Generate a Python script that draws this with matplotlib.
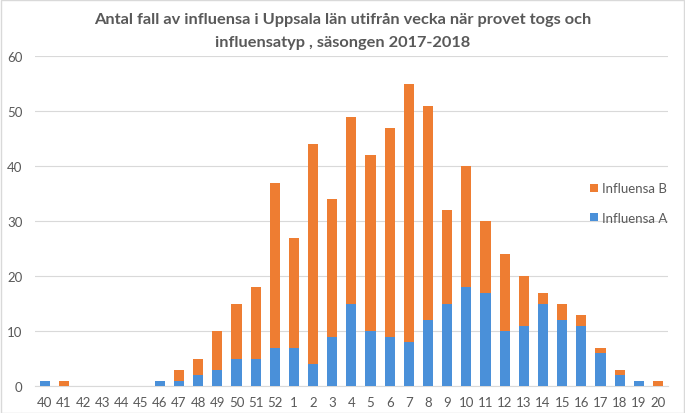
import numpy as np
from matplotlib import pyplot as plt

plt.rcParams['font.family'] = ['Lato', 'DejaVu Sans']

veckor = ['40', '41', '42', '43', '44', '45', '46', '47', '48', '49', '50', '51', '52',
          '1', '2', '3', '4', '5', '6', '7', '8', '9', '10', '11', '12', '13', '14',
          '15', '16', '17', '18', '19', '20']
influensa_a = [1, 0, 0, 0, 0, 0, 1, 1, 2, 3, 5, 5, 7,
               7, 4, 9, 15, 10, 9, 8, 12, 15, 18, 17, 10, 11, 15,
               12, 11, 6, 2, 1, 0]
totalt = [1, 1, 0, 0, 0, 0, 1, 3, 5, 10, 15, 18, 37,
          27, 44, 34, 49, 42, 47, 55, 51, 32, 40, 30, 24, 20, 17,
          15, 13, 7, 3, 1, 1]
influensa_b = [t - a for t, a in zip(totalt, influensa_a)]

gra = '#595959'
fig = plt.figure(figsize=(6.85, 4.14), dpi=100)
ax = fig.add_axes([0.051, 0.065, 0.924, 0.797])

x = np.arange(len(veckor))
ax.bar(x, influensa_a, width=0.53, color='#4A90D9', label='Influensa A', zorder=3)
ax.bar(x, influensa_b, width=0.53, bottom=influensa_a, color='#EE7D32',
       label='Influensa B', zorder=3)

ax.set_ylim(0, 60)
ax.set_xlim(-0.52, 32.52)
ax.set_yticks(range(0, 61, 10))
ax.set_xticks(x)
ax.set_xticklabels(veckor)
ax.tick_params(axis='both', length=0, colors=gra, labelsize=9.5)
ax.tick_params(axis='y', pad=9)
ax.tick_params(axis='x', pad=7)
ax.grid(axis='y', color='#D9D9D9', linewidth=0.8, zorder=0)
for s in ['top', 'right', 'left']:
    ax.spines[s].set_visible(False)
ax.spines['bottom'].set_color('#D9D9D9')

h, l = ax.get_legend_handles_labels()
ax.legend(h[::-1], l[::-1], loc='center right', bbox_to_anchor=(1.018, 0.555),
          frameon=False, fontsize=9.5, labelcolor=gra, handlelength=0.6,
          handleheight=0.6, handletextpad=0.3, labelspacing=1.3)

fig.text(0.5, 0.952, 'Antal fall av influensa i Uppsala län utifrån vecka när provet togs och',
         ha='center', va='center', fontsize=11.8, fontweight='bold', color=gra)
fig.text(0.5, 0.897, 'influensatyp , säsongen 2017-2018',
         ha='center', va='center', fontsize=11.8, fontweight='bold', color=gra)

fig.patches.append(plt.Rectangle((0.001, 0.001), 0.997, 0.997, transform=fig.transFigure,
                                 fill=False, edgecolor='#D9D9D9', linewidth=1))

plt.savefig('out.png', dpi=100)
